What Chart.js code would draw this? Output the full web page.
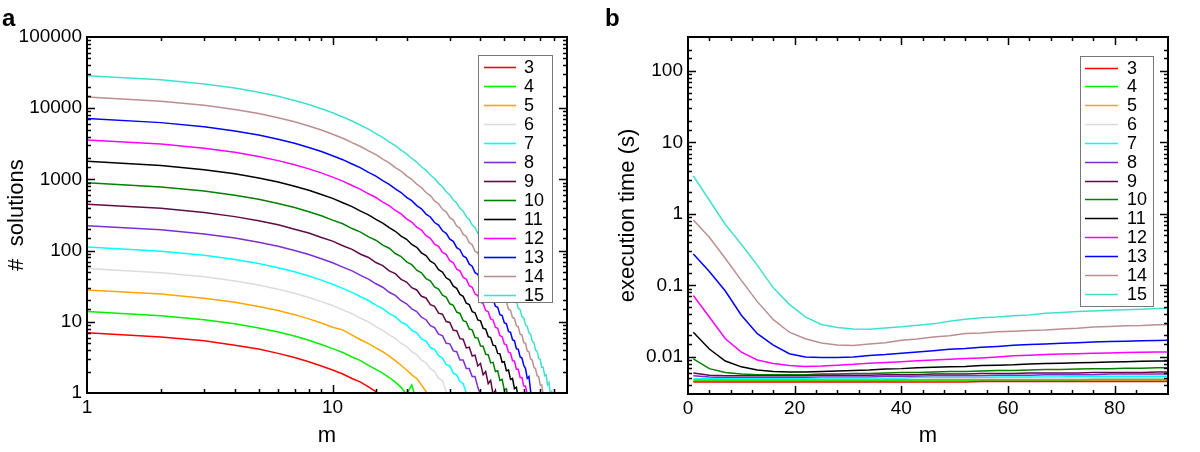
<!DOCTYPE html>
<html>
<head>
<meta charset="utf-8">
<title>solutions and execution time</title>
<script src="https://cdn.jsdelivr.net/npm/chart.js@4.4.1/dist/chart.umd.min.js"></script>
<style>
  html, body { margin: 0; padding: 0; background: #fff; }
  #wrap { position: relative; width: 1200px; height: 452px; }
  canvas { position: absolute; top: 0; }
  #chartA { left: 0; }
  #chartB { left: 590px; }
</style>
</head>
<body>
<div id="wrap">
  <canvas id="chartA" width="590" height="452" style="width:590px;height:452px"></canvas>
  <canvas id="chartB" width="610" height="452" style="width:610px;height:452px"></canvas>
</div>
<script>
// series (n) and colours
const seriesN = [3, 4, 5, 6, 7, 8, 9, 10, 11, 12, 13, 14, 15];
const lineColors = ['#ff0000', '#00f000', '#ffa500', '#dcdcdc', '#00ffff', '#7b2fd1', '#600a46',
                    '#008000', '#000000', '#ff00ff', '#0000ff', '#bc8f8f', '#40e0d0'];

// panel a : m values and # solutions
const mA = [1, 2, 3, 4, 5, 6, 7, 8, 9, 10, 11, 12, 13, 14, 15, 16, 17, 18, 19, 20,
            21, 22, 23, 24, 25, 26, 27, 28, 29, 30, 31, 32, 33, 34, 35, 36, 37, 38, 39, 40,
            41, 42, 43, 44, 45, 46, 47, 48, 49, 50, 51, 52, 53, 54, 55, 56, 57, 58, 59, 60,
            61, 62, 63, 64, 65, 66, 67, 68, 69, 70, 71, 72, 73, 74, 75, 76, 77, 78, 79, 80];

const sol3 = [7.0, 6.1, 5.4, 4.7, 4.15, 3.6, 3.15, 2.75, 2.4, 2.1, 1.85, 1.6, 1.42, 1.22, 1.05, 0.88];
const sol4 = [14.0, 12.2, 10.7, 9.4, 8.2, 7.2, 6.3, 5.5, 4.8, 4.2, 3.7, 3.2, 2.85, 2.45, 2.15, 1.9,
              1.65, 1.42, 1.2, 0.95, 1.3, 0.75];
const sol5 = [28.0, 24.5, 21.4, 18.8, 16.4, 14.4, 12.6, 11.0, 9.6, 8.4, 7.7, 6.5, 5.6, 4.95, 4.3, 3.8,
              3.3, 2.85, 2.45, 2.1, 1.8, 1.6, 1.3, 1.05, 0.8];
const sol6 = [56, 49, 42.9, 37.5, 32.8, 28.7, 25.1, 22.0, 19.2, 16.9, 14.7, 13.0, 11.2, 9.95, 8.55, 7.6,
              6.55, 5.85, 5.0, 4.5, 3.8, 3.45, 2.9, 2.65, 2.2, 2.0, 1.6, 1.5, 1.05, 0.8];
const sol7 = [112, 98, 85.8, 75.0, 65.7, 57.4, 50.3, 44.0, 38.5, 33.7, 29.5, 25.9, 22.5, 19.9, 17.1, 15.3,
              13.0, 11.8, 9.9, 9.1, 7.6, 7.0, 5.75, 5.35, 4.35, 4.1, 3.35, 3.1, 2.5, 2.4, 1.9, 1.8,
              1.45, 1.35, 1.0, 0.75];
const sol8 = [224, 196, 171.5, 150, 131, 115, 100.5, 88, 77, 67.5, 58.7, 51.9, 44.8, 39.8, 34.2, 30.6,
              26.0, 23.5, 19.8, 17.9, 15.2, 13.9, 11.6, 10.7, 8.8, 8.3, 6.7, 6.4, 5.0, 4.9, 3.9, 3.8,
              2.9, 2.9, 2.2, 2.2, 1.7, 1.7, 1.2, 0.95, 0.7];
const sol9 = [448, 392, 343, 300, 262, 231, 200, 177, 153, 136, 117, 104, 89, 80, 68, 61.5,
              52, 47.5, 39.5, 36.2, 30.1, 28.0, 22.8, 21.6, 17.4, 16.5, 13.2, 12.8, 10.1, 9.8, 7.6, 7.5,
              5.8, 5.7, 4.3, 4.4, 3.3, 3.4, 2.4, 2.6, 1.8, 2.0, 1.35, 1.5, 0.95, 1.1, 0.7];
const sol10 = [896, 783, 687, 599, 526, 458, 404, 351, 309, 268, 238, 204, 182, 156, 140, 119,
               108, 91, 82.5, 69.5, 63.5, 53, 48.8, 40.5, 37.5, 30.8, 28.9, 23.6, 22.2, 17.9, 17.0, 13.7,
               13.1, 10.4, 10.0, 7.9, 7.7, 6.0, 5.9, 4.6, 4.5, 3.5, 3.45, 2.65, 2.7, 2.0, 2.05, 1.5,
               1.55, 1.1, 1.15, 0.75];
const sol11 = [1792, 1568, 1371, 1201, 1049, 920, 803, 705, 614, 541, 469, 414, 359, 318, 274, 244,
               210, 187, 160, 144, 122, 111, 93, 85, 71, 65.5, 54, 50, 41.5, 38.5, 31.6, 29.5,
               24.2, 22.8, 18.3, 17.5, 13.9, 13.4, 10.6, 10.3, 8.1, 7.9, 6.2, 6.0, 4.7, 4.6, 3.6, 3.55,
               2.7, 2.75, 2.05, 2.1, 1.55, 1.6, 1.15, 1.2, 0.85];
const sol12 = [3584, 3136, 2745, 2400, 2102, 1836, 1610, 1405, 1234, 1075, 946, 822, 726, 628, 557, 480,
               427, 366, 328, 279, 252, 213, 194, 162, 149, 123, 115, 94, 88.5, 72, 67.5, 55,
               52, 42, 39.8, 32.2, 30.5, 24.6, 23.4, 18.8, 18.0, 14.4, 13.8, 11.0, 10.6, 8.4, 8.1, 6.4,
               6.2, 4.9, 4.75, 3.75, 3.65, 2.85, 2.8, 2.15, 2.15, 1.65, 1.65, 1.25, 1.25, 0.95, 0.8];
const sol13 = [7168, 6272, 5490, 4800, 4205, 3674, 3220, 2812, 2468, 2150, 1892, 1645, 1450, 1257, 1112, 960,
               852, 735, 654, 560, 502, 428, 386, 326, 297, 248, 228, 190, 175, 145, 135, 110,
               103, 84, 79, 64.5, 60.5, 49, 46.5, 37.5, 35.5, 28.6, 27.3, 21.8, 20.9, 16.6, 16.0, 12.6,
               12.2, 9.7, 9.4, 7.3, 7.1, 5.6, 5.4, 4.2, 4.1, 3.2, 3.1, 2.45, 2.2, 1.6, 1.7, 1.05, 0.75];
const sol14 = [14336, 12544, 10980, 9600, 8410, 7345, 6440, 5622, 4935, 4300, 3782, 3290, 2900, 2515, 2225, 1920,
               1708, 1466, 1310, 1120, 1003, 856, 770, 654, 592, 498, 455, 380, 350, 290, 268, 221,
               206, 169, 158, 129, 121, 98, 93, 75, 71.5, 57.5, 55, 44, 42.2, 33.6, 32.3, 25.8,
               24.7, 19.6, 19.0, 15.0, 14.5, 11.5, 11.1, 8.8, 8.5, 6.7, 6.5, 5.1, 5.0, 3.9, 3.8, 3.0,
               2.9, 2.3, 2.2, 1.75, 1.7, 1.3, 1.3, 0.95, 0.8];
const sol15 = [28672, 25088, 21950, 19210, 16800, 14715, 12860, 11270, 9840, 8635, 7530, 6615, 5760, 5070, 4405, 3885,
               3370, 2980, 2575, 2285, 1968, 1752, 1505, 1342, 1150, 1030, 880, 790, 672, 606, 514, 466,
               392, 358, 299, 275, 228, 211, 174, 162, 133, 124, 101, 95.5, 77.5, 73, 59, 56,
               45, 43, 34.5, 33, 26.4, 25.3, 20.1, 19.4, 15.4, 14.9, 11.8, 11.4, 9.0, 8.7, 6.9, 6.7,
               5.3, 5.1, 4.0, 3.9, 3.05, 3.0, 2.3, 2.3, 1.75, 1.8, 1.3, 1.4, 0.95, 1.05, 0.7];

// panel b : m values and execution time (s)
const mB = [1, 4, 7, 10, 13, 16, 19, 22, 25, 28, 31, 34, 37, 40, 43, 46, 49, 52, 55, 58,
            61, 64, 67, 70, 73, 76, 79, 82, 85, 88, 90];

const time3 = [0.0044, 0.0044, 0.0044, 0.0044, 0.0044, 0.0044, 0.0044, 0.0044, 0.0044, 0.0044, 0.0044,
               0.0044, 0.0044, 0.0044, 0.0044, 0.0044, 0.0044, 0.0044, 0.0045, 0.0045, 0.0045, 0.0045,
               0.0045, 0.0045, 0.0045, 0.0045, 0.0045, 0.0045, 0.0045, 0.0045, 0.0045];
const time4 = [0.0047, 0.0047, 0.0047, 0.0047, 0.0047, 0.0047, 0.0047, 0.0047, 0.0047, 0.0047, 0.0047,
               0.0047, 0.0047, 0.0047, 0.0047, 0.0047, 0.0047, 0.0047, 0.0047, 0.0047, 0.0047, 0.0047,
               0.0047, 0.0047, 0.0047, 0.0048, 0.0048, 0.0048, 0.0048, 0.0048, 0.0048];
const time5 = [0.0046, 0.0046, 0.0046, 0.0046, 0.0046, 0.0046, 0.0046, 0.0046, 0.0046, 0.0046, 0.0046,
               0.0046, 0.0046, 0.0047, 0.0047, 0.0047, 0.0047, 0.0047, 0.0047, 0.0047, 0.0047, 0.0047,
               0.0047, 0.0047, 0.0047, 0.0047, 0.0047, 0.0047, 0.0047, 0.0047, 0.0047];
const time6 = [0.0048, 0.0047, 0.0047, 0.0047, 0.0047, 0.0047, 0.0047, 0.0047, 0.0048, 0.0048, 0.0048,
               0.0048, 0.0048, 0.0048, 0.0048, 0.0049, 0.0049, 0.0049, 0.0049, 0.0049, 0.0049, 0.0049,
               0.0050, 0.0050, 0.0050, 0.0050, 0.0050, 0.0050, 0.0050, 0.0050, 0.0050];
const time7 = [0.0049, 0.0049, 0.0049, 0.0049, 0.0049, 0.0049, 0.0049, 0.0049, 0.0050, 0.0050, 0.0050,
               0.0050, 0.0050, 0.0050, 0.0051, 0.0051, 0.0051, 0.0051, 0.0051, 0.0052, 0.0052, 0.0052,
               0.0052, 0.0052, 0.0053, 0.0053, 0.0053, 0.0053, 0.0053, 0.0053, 0.0053];
const time8 = [0.0054, 0.0052, 0.0051, 0.0051, 0.0051, 0.0051, 0.0051, 0.0051, 0.0052, 0.0052, 0.0052,
               0.0052, 0.0053, 0.0053, 0.0053, 0.0054, 0.0054, 0.0054, 0.0054, 0.0055, 0.0055, 0.0055,
               0.0056, 0.0056, 0.0056, 0.0056, 0.0057, 0.0057, 0.0057, 0.0057, 0.0057];
const time9 = [0.0059, 0.0055, 0.0054, 0.0054, 0.0054, 0.0054, 0.0054, 0.0054, 0.0055, 0.0055, 0.0055,
               0.0055, 0.0056, 0.0056, 0.0056, 0.0057, 0.0057, 0.0057, 0.0058, 0.0058, 0.0058, 0.0059,
               0.0059, 0.0059, 0.0059, 0.0060, 0.0060, 0.0060, 0.0060, 0.0061, 0.0061];
const time10 = [0.0093, 0.0068, 0.0060, 0.0057, 0.0056, 0.0056, 0.0056, 0.0056, 0.0057, 0.0057, 0.0058,
                0.0058, 0.0059, 0.0060, 0.0060, 0.0061, 0.0062, 0.0062, 0.0063, 0.0064, 0.0064, 0.0065,
                0.0066, 0.0066, 0.0067, 0.0068, 0.0068, 0.0069, 0.0069, 0.0070, 0.0070];
const time11 = [0.022, 0.0128, 0.0087, 0.0072, 0.0065, 0.0062, 0.0061, 0.0061, 0.0062, 0.0063, 0.0064,
                0.0065, 0.0067, 0.0068, 0.0070, 0.0071, 0.0072, 0.0073, 0.0075, 0.0076, 0.0077, 0.0079,
                0.0080, 0.0081, 0.0082, 0.0083, 0.0084, 0.0085, 0.0086, 0.0087, 0.0087];
const time12 = [0.072, 0.036, 0.0178, 0.0116, 0.0090, 0.0080, 0.0075, 0.0073, 0.0074, 0.0076, 0.0078,
                0.0081, 0.0083, 0.0085, 0.0088, 0.0090, 0.0092, 0.0094, 0.0096, 0.0099, 0.0103, 0.0105,
                0.0107, 0.0109, 0.0110, 0.0112, 0.0113, 0.0114, 0.0115, 0.0116, 0.0116];
const time13 = [0.275, 0.156, 0.083, 0.038, 0.021, 0.0145, 0.011, 0.0099, 0.0097, 0.0097, 0.0099,
                0.0104, 0.0107, 0.0112, 0.0116, 0.0121, 0.0127, 0.0130, 0.0135, 0.0139, 0.0144, 0.0148,
                0.0151, 0.0154, 0.0157, 0.0160, 0.0163, 0.0165, 0.0167, 0.0169, 0.0170];
const time14 = [0.82, 0.47, 0.237, 0.117, 0.059, 0.033, 0.022, 0.0178, 0.0155, 0.0146, 0.0143,
                0.0151, 0.0157, 0.0170, 0.0177, 0.0189, 0.0197, 0.0211, 0.0214, 0.0223, 0.0227, 0.0233,
                0.0236, 0.0245, 0.0251, 0.0261, 0.0265, 0.0271, 0.0273, 0.0279, 0.0280];
const time15 = [3.4, 1.55, 0.71, 0.375, 0.19, 0.092, 0.054, 0.036, 0.0283, 0.0256, 0.0245,
                0.0243, 0.0253, 0.0262, 0.0276, 0.0288, 0.0313, 0.0333, 0.0352, 0.0360, 0.0374, 0.0384,
                0.0404, 0.0416, 0.0429, 0.0436, 0.0448, 0.0455, 0.0462, 0.0473, 0.0478];

// tick labels
const yLabelsA = [1, 10, 100, 1000, 10000, 100000];
const xLabelsA = [1, 10];
const yLabelsB = [0.01, 0.1, 1, 10, 100];
const yTextB = ['0.01', '0.1', '1', '10', '100'];
const xLabelsB = [0, 20, 40, 60, 80];

const solutions = [sol3, sol4, sol5, sol6, sol7, sol8, sol9, sol10, sol11, sol12, sol13, sol14, sol15];
const times = [time3, time4, time5, time6, time7, time8, time9, time10, time11, time12, time13, time14, time15];

const FONT = "'Liberation Sans', Arial, Helvetica, sans-serif";

function sameLog(a, b) {
  return Math.abs(Math.log10(a) - Math.log10(b)) < 1e-6;
}
function isDecade(v) {
  const l = Math.log10(v);
  return Math.abs(l - Math.round(l)) < 1e-6;
}

// box round the plot, inward ticks on all sides, panel letter and legend
const framePlugin = {
  id: 'frame',
  afterDatasetsDraw(chart, args, opts) {
    const {ctx, chartArea: a} = chart;
    const x = chart.scales.x, y = chart.scales.y;
    ctx.save();
    ctx.strokeStyle = '#000';
    ctx.lineWidth = 1.5;
    ctx.beginPath();
    x.ticks.forEach(t => {
      const px = Math.round(x.getPixelForValue(t.value)) + 0.5;
      if (px < a.left + 1 || px > a.right - 1) return;
      const len = opts.majorX(t.value) ? 8 : 4;
      ctx.moveTo(px, a.bottom); ctx.lineTo(px, a.bottom - len);
      ctx.moveTo(px, a.top); ctx.lineTo(px, a.top + len);
    });
    y.ticks.forEach(t => {
      const py = Math.round(y.getPixelForValue(t.value)) + 0.5;
      if (py < a.top + 1 || py > a.bottom - 1) return;
      const len = isDecade(t.value) ? 8 : 4;
      ctx.moveTo(a.left, py); ctx.lineTo(a.left + len, py);
      ctx.moveTo(a.right, py); ctx.lineTo(a.right - len, py);
    });
    ctx.stroke();
    ctx.lineWidth = 2;
    ctx.strokeRect(a.left, a.top, a.right - a.left, a.bottom - a.top);

    // legend
    const L = opts.legend;
    ctx.fillStyle = '#fff';
    ctx.fillRect(L.x, L.y, L.w, L.h);
    ctx.strokeStyle = '#777';
    ctx.lineWidth = 1;
    ctx.strokeRect(L.x + 0.5, L.y + 0.5, L.w, L.h);
    ctx.font = '18px ' + FONT;
    ctx.textAlign = 'left';
    ctx.textBaseline = 'middle';
    chart.data.datasets.forEach((ds, i) => {
      const ry = Math.round(L.y + L.first + i * L.step) + 0.5;
      ctx.strokeStyle = ds.borderColor;
      ctx.lineWidth = 1.6;
      ctx.beginPath();
      ctx.moveTo(L.x + L.lineX0, ry);
      ctx.lineTo(L.x + L.lineX1, ry);
      ctx.stroke();
      ctx.fillStyle = '#000';
      ctx.fillText(ds.label, L.x + L.textX, ry + 1);
    });

    // panel letter
    ctx.font = 'bold 24px ' + FONT;
    ctx.textBaseline = 'alphabetic';
    ctx.fillStyle = '#000';
    ctx.fillText(opts.letter, opts.letterX, 26);
    ctx.restore();
  }
};

function makeDatasets(values, xs) {
  return seriesN.map((n, i) => ({
    label: String(n),
    data: values[i].map((v, j) => ({x: xs[j], y: v})),
    borderColor: lineColors[i],
    backgroundColor: lineColors[i],
    borderWidth: 1.5,
    pointRadius: 0,
    tension: 0,
    fill: false
  }));
}

const tickFont = {family: FONT, size: 19};
const titleFont = {family: FONT, size: 22};

let chartA = new Chart(document.getElementById('chartA'), {
  type: 'line',
  data: { datasets: makeDatasets(solutions, mA) },
  plugins: [framePlugin],
  options: {
    responsive: false,
    animation: false,
    layout: { padding: { left: 0, right: 23, top: 37, bottom: 0 } },
    plugins: {
      legend: { display: false },
      tooltip: { enabled: false },
      frame: {
        letter: 'a', letterX: 2,
        majorX: v => isDecade(v),
        legend: { x: 478, y: 55, w: 74, h: 247, first: 12, step: 19, lineX0: 6, lineX1: 38, textX: 46 }
      }
    },
    scales: {
      x: {
        type: 'logarithmic', min: 1, max: 90,
        grid: { display: false, drawTicks: false },
        border: { display: false },
        ticks: {
          autoSkip: false, maxRotation: 0, padding: 3, color: '#000', font: tickFont,
          callback: v => (xLabelsA.some(t => sameLog(t, v)) ? String(v) : '')
        },
        title: { display: true, text: 'm', color: '#000', font: titleFont, padding: { top: 0, bottom: 3 } },
        afterFit: s => { s.height = 59; }
      },
      y: {
        type: 'logarithmic', min: 1, max: 100000,
        grid: { display: false, drawTicks: false },
        border: { display: false },
        ticks: {
          autoSkip: false, padding: 5, color: '#000', font: tickFont,
          callback: v => {
            const i = yLabelsA.findIndex(t => sameLog(t, v));
            return i >= 0 ? String(yLabelsA[i]) : '';
          }
        },
        title: { display: true, text: '#  solutions', color: '#000', font: titleFont, padding: { top: 4, bottom: 0 } },
        afterFit: s => { s.width = 87; }
      }
    }
  }
});

let chartB = new Chart(document.getElementById('chartB'), {
  type: 'line',
  data: { datasets: makeDatasets(times, mB) },
  plugins: [framePlugin],
  options: {
    responsive: false,
    animation: false,
    layout: { padding: { left: 0, right: 32, top: 37, bottom: 0 } },
    plugins: {
      legend: { display: false },
      tooltip: { enabled: false },
      frame: {
        letter: 'b', letterX: 15,
        majorX: v => v % 20 === 0,
        legend: { x: 490, y: 56, w: 73, h: 250, first: 11.5, step: 18.85, lineX0: 5, lineX1: 38, textX: 47 }
      }
    },
    scales: {
      x: {
        type: 'linear', min: 0, max: 90,
        grid: { display: false, drawTicks: false },
        border: { display: false },
        ticks: {
          stepSize: 4, autoSkip: false, maxRotation: 0, padding: 3, color: '#000', font: tickFont,
          callback: v => (xLabelsB.includes(v) ? String(v) : '')
        },
        title: { display: true, text: 'm', color: '#000', font: titleFont, padding: { top: 0, bottom: 3 } },
        afterFit: s => { s.height = 58; }
      },
      y: {
        type: 'logarithmic', min: 0.003, max: 300,
        grid: { display: false, drawTicks: false },
        border: { display: false },
        ticks: {
          autoSkip: false, padding: 5, color: '#000', font: tickFont,
          callback: v => {
            const i = yLabelsB.findIndex(t => sameLog(t, v));
            return i >= 0 ? yTextB[i] : '';
          }
        },
        title: { display: true, text: 'execution time (s)', color: '#000', font: titleFont, padding: { top: 25, bottom: 0 } },
        afterFit: s => { s.width = 98; }
      }
    }
  }
});
</script>
</body>
</html>
